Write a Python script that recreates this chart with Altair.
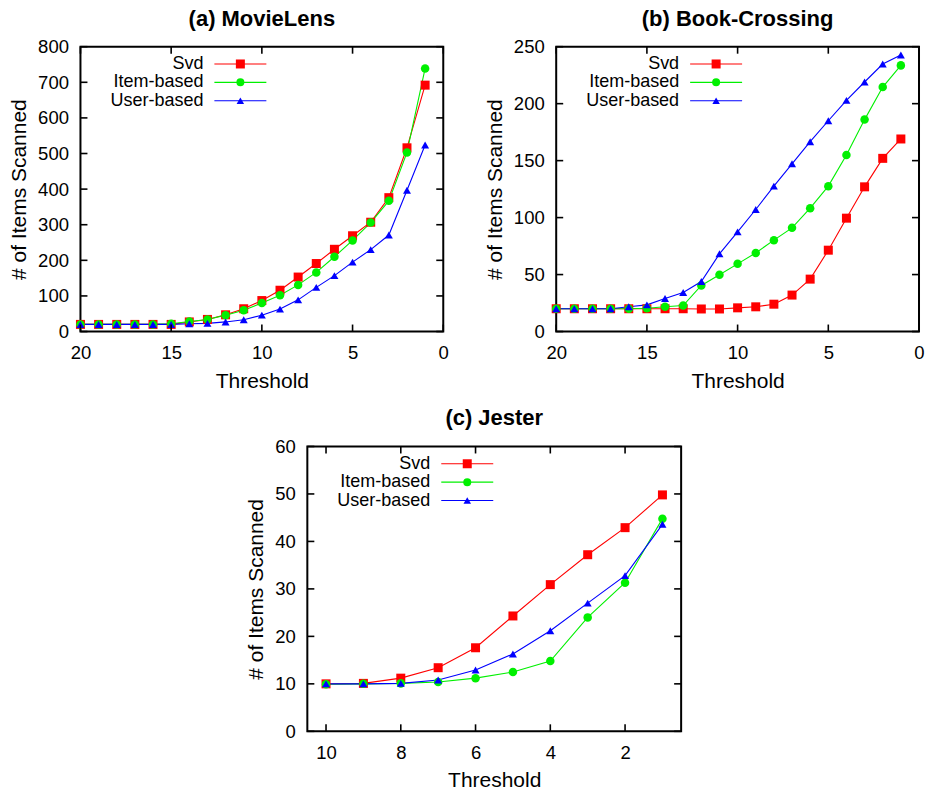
import altair as alt
import pandas as pd

# ---- series definitions ----
SERIES = ["Svd", "Item-based", "User-based"]
COLORS = ["#ff0000", "#00f000", "#0000ff"]
SHAPES = ["square", "circle", "triangle-up"]
SIZES = [81, 64, 56]

# ---- (a) MovieLens ----
ML_THRESH = [20, 19, 18, 17, 16, 15, 14, 13, 12, 11, 10, 9, 8, 7, 6, 5, 4, 3, 2, 1]
ML_SVD = [20, 20, 20, 20, 20, 20, 27, 34, 47, 64, 87, 116, 153, 191, 231, 269, 307, 376, 516, 692]
ML_ITEM = [20, 20, 20, 20, 20, 22, 28, 34, 46, 60, 80, 102, 131, 166, 210, 256, 306, 367, 503, 739]
ML_USER = [20, 20, 20, 20, 20, 20, 22, 23, 27, 33, 46, 63, 89, 124, 157, 195, 230, 271, 397, 524]
ML_XTICKS = [20, 15, 10, 5, 0]
ML_YTICKS = [0, 100, 200, 300, 400, 500, 600, 700, 800]

# ---- (b) Book-Crossing ----
BX_THRESH = ML_THRESH
BX_SVD = [20, 20, 20, 20, 20, 20, 20, 20, 19.8, 19.8, 20.8, 21.7, 24, 32, 46, 71.4, 99.5, 127, 152, 169]
BX_ITEM = [20, 20, 20, 20, 20, 20.5, 21.7, 22.8, 40.4, 49.8, 59.4, 69, 80.2, 91, 108.3, 127.6, 155, 186, 214.6, 233.6]
BX_USER = [20, 20, 20, 20, 21.7, 23.4, 29, 34.2, 43.9, 68.2, 87.5, 107.1, 127.6, 147.2, 166.6, 185, 202.9, 219, 234.8, 242.7]
BX_XTICKS = [20, 15, 10, 5, 0]
BX_YTICKS = [0, 50, 100, 150, 200, 250]

# ---- (c) Jester ----
JS_THRESH = [10, 9, 8, 7, 6, 5, 4, 3, 2, 1]
JS_SVD = [10, 10.1, 11.2, 13.4, 17.6, 24.3, 30.9, 37.2, 42.9, 49.8]
JS_ITEM = [9.9, 10, 10.1, 10.4, 11.2, 12.5, 14.8, 24.0, 31.3, 44.8]
JS_USER = [10, 10, 10.1, 10.8, 12.9, 16.3, 21.2, 27, 32.8, 43.6]
JS_XTICKS = [10, 8, 6, 4, 2]
JS_YTICKS = [0, 10, 20, 30, 40, 50, 60]

FONT = "Liberation Sans"
H = 285
TICK = 7


def make_panel(title, thresholds, series_values, x_dom, x_ticks, y_dom, y_ticks, width):
    rows = []
    for name, vals in zip(SERIES, series_values):
        for t, v in zip(thresholds, vals):
            rows.append({"x": t, "y": v, "series": name})
    df = pd.DataFrame(rows)

    xs = alt.Scale(domain=x_dom, reverse=True, nice=False, zero=False)
    ys = alt.Scale(domain=y_dom, nice=False, zero=False)
    x_enc = alt.X("x:Q", scale=xs, axis=alt.Axis(values=x_ticks, title="Threshold"))
    y_enc = alt.Y("y:Q", scale=ys, axis=alt.Axis(values=y_ticks, title="# of Items Scanned"))
    color = alt.Color("series:N", scale=alt.Scale(domain=SERIES, range=COLORS), legend=None)
    shape = alt.Shape("series:N", scale=alt.Scale(domain=SERIES, range=SHAPES), legend=None)
    size = alt.Size("series:O", scale=alt.Scale(domain=SERIES, range=SIZES), legend=None)

    lines = alt.Chart(df).mark_line(strokeWidth=1.1).encode(x=x_enc, y=y_enc, color=color)
    points = alt.Chart(df).mark_point(filled=True, opacity=1).encode(
        x=x_enc, y=y_enc, color=color, shape=shape, size=size
    )

    # inward ticks on all four sides of the frame
    xt = pd.DataFrame({"x": x_ticks})
    yt = pd.DataFrame({"y": y_ticks})
    tick_style = dict(color="black", strokeWidth=1.6)
    ticks = [
        alt.Chart(xt).mark_rule(**tick_style).encode(x=x_enc, y=alt.value(H), y2=alt.value(H - TICK)),
        alt.Chart(xt).mark_rule(**tick_style).encode(x=x_enc, y=alt.value(0), y2=alt.value(TICK)),
        alt.Chart(yt).mark_rule(**tick_style).encode(y=y_enc, x=alt.value(0), x2=alt.value(TICK)),
        alt.Chart(yt).mark_rule(**tick_style).encode(y=y_enc, x=alt.value(width - TICK), x2=alt.value(width)),
    ]

    # key in the upper-left corner: label, then line sample with marker
    key = []
    for i, (name, col, shp, sz) in enumerate(zip(SERIES, COLORS, SHAPES, SIZES)):
        ky = 17.3 + i * 18.4
        one = pd.DataFrame({"label": [name]})
        key.append(
            alt.Chart(one).mark_text(align="right", baseline="middle", font=FONT, fontSize=18, color="black")
            .encode(text="label:N", x=alt.value(123), y=alt.value(ky))
        )
        key.append(
            alt.Chart(one).mark_rule(color=col, strokeWidth=1.1)
            .encode(x=alt.value(134), x2=alt.value(186), y=alt.value(ky))
        )
        key.append(
            alt.Chart(one).mark_point(filled=True, opacity=1, shape=shp, size=sz, color=col)
            .encode(x=alt.value(160), y=alt.value(ky))
        )

    return alt.layer(lines, points, *ticks, *key).properties(
        width=width,
        height=H,
        title=alt.TitleParams(title, font=FONT, fontSize=22, fontWeight="bold", anchor="middle", offset=7, color="black"),
    )


pa = make_panel("(a) MovieLens", ML_THRESH, [ML_SVD, ML_ITEM, ML_USER], [0, 20], ML_XTICKS, [0, 800], ML_YTICKS, 363)
pb = make_panel("(b) Book-Crossing", BX_THRESH, [BX_SVD, BX_ITEM, BX_USER], [0, 20], BX_XTICKS, [0, 250], BX_YTICKS, 363)
pc = make_panel("(c) Jester", JS_THRESH, [JS_SVD, JS_ITEM, JS_USER], [0.5, 10.5], JS_XTICKS, [0, 60], JS_YTICKS, 374)

spacer = alt.Chart(pd.DataFrame({"a": [0]})).mark_point(opacity=0).properties(
    width=1, height=H, view=alt.ViewBackground(strokeOpacity=0)
)

top = alt.hconcat(pa, pb, spacing=113, bounds="flush")
bottom = alt.hconcat(spacer, pc, spacing=226, bounds="flush")

chart = (
    alt.vconcat(top, bottom, spacing=400, bounds="flush")
    .configure_view(stroke="black", strokeWidth=2)
    .configure_axis(
        labelFont=FONT,
        labelFontSize=18.5,
        labelColor="black",
        labelPadding=12,
        labelFlush=False,
        titleFont=FONT,
        titleFontSize=21,
        titleFontWeight="normal",
        titleColor="black",
        titlePadding=8,
        domain=False,
        ticks=False,
        grid=False,
    )
    .properties(background="white", padding={"left": 7.5, "top": 6.5, "right": 5, "bottom": 5})
)

chart.save("out.html", embed_options={"renderer": "svg", "actions": False})
